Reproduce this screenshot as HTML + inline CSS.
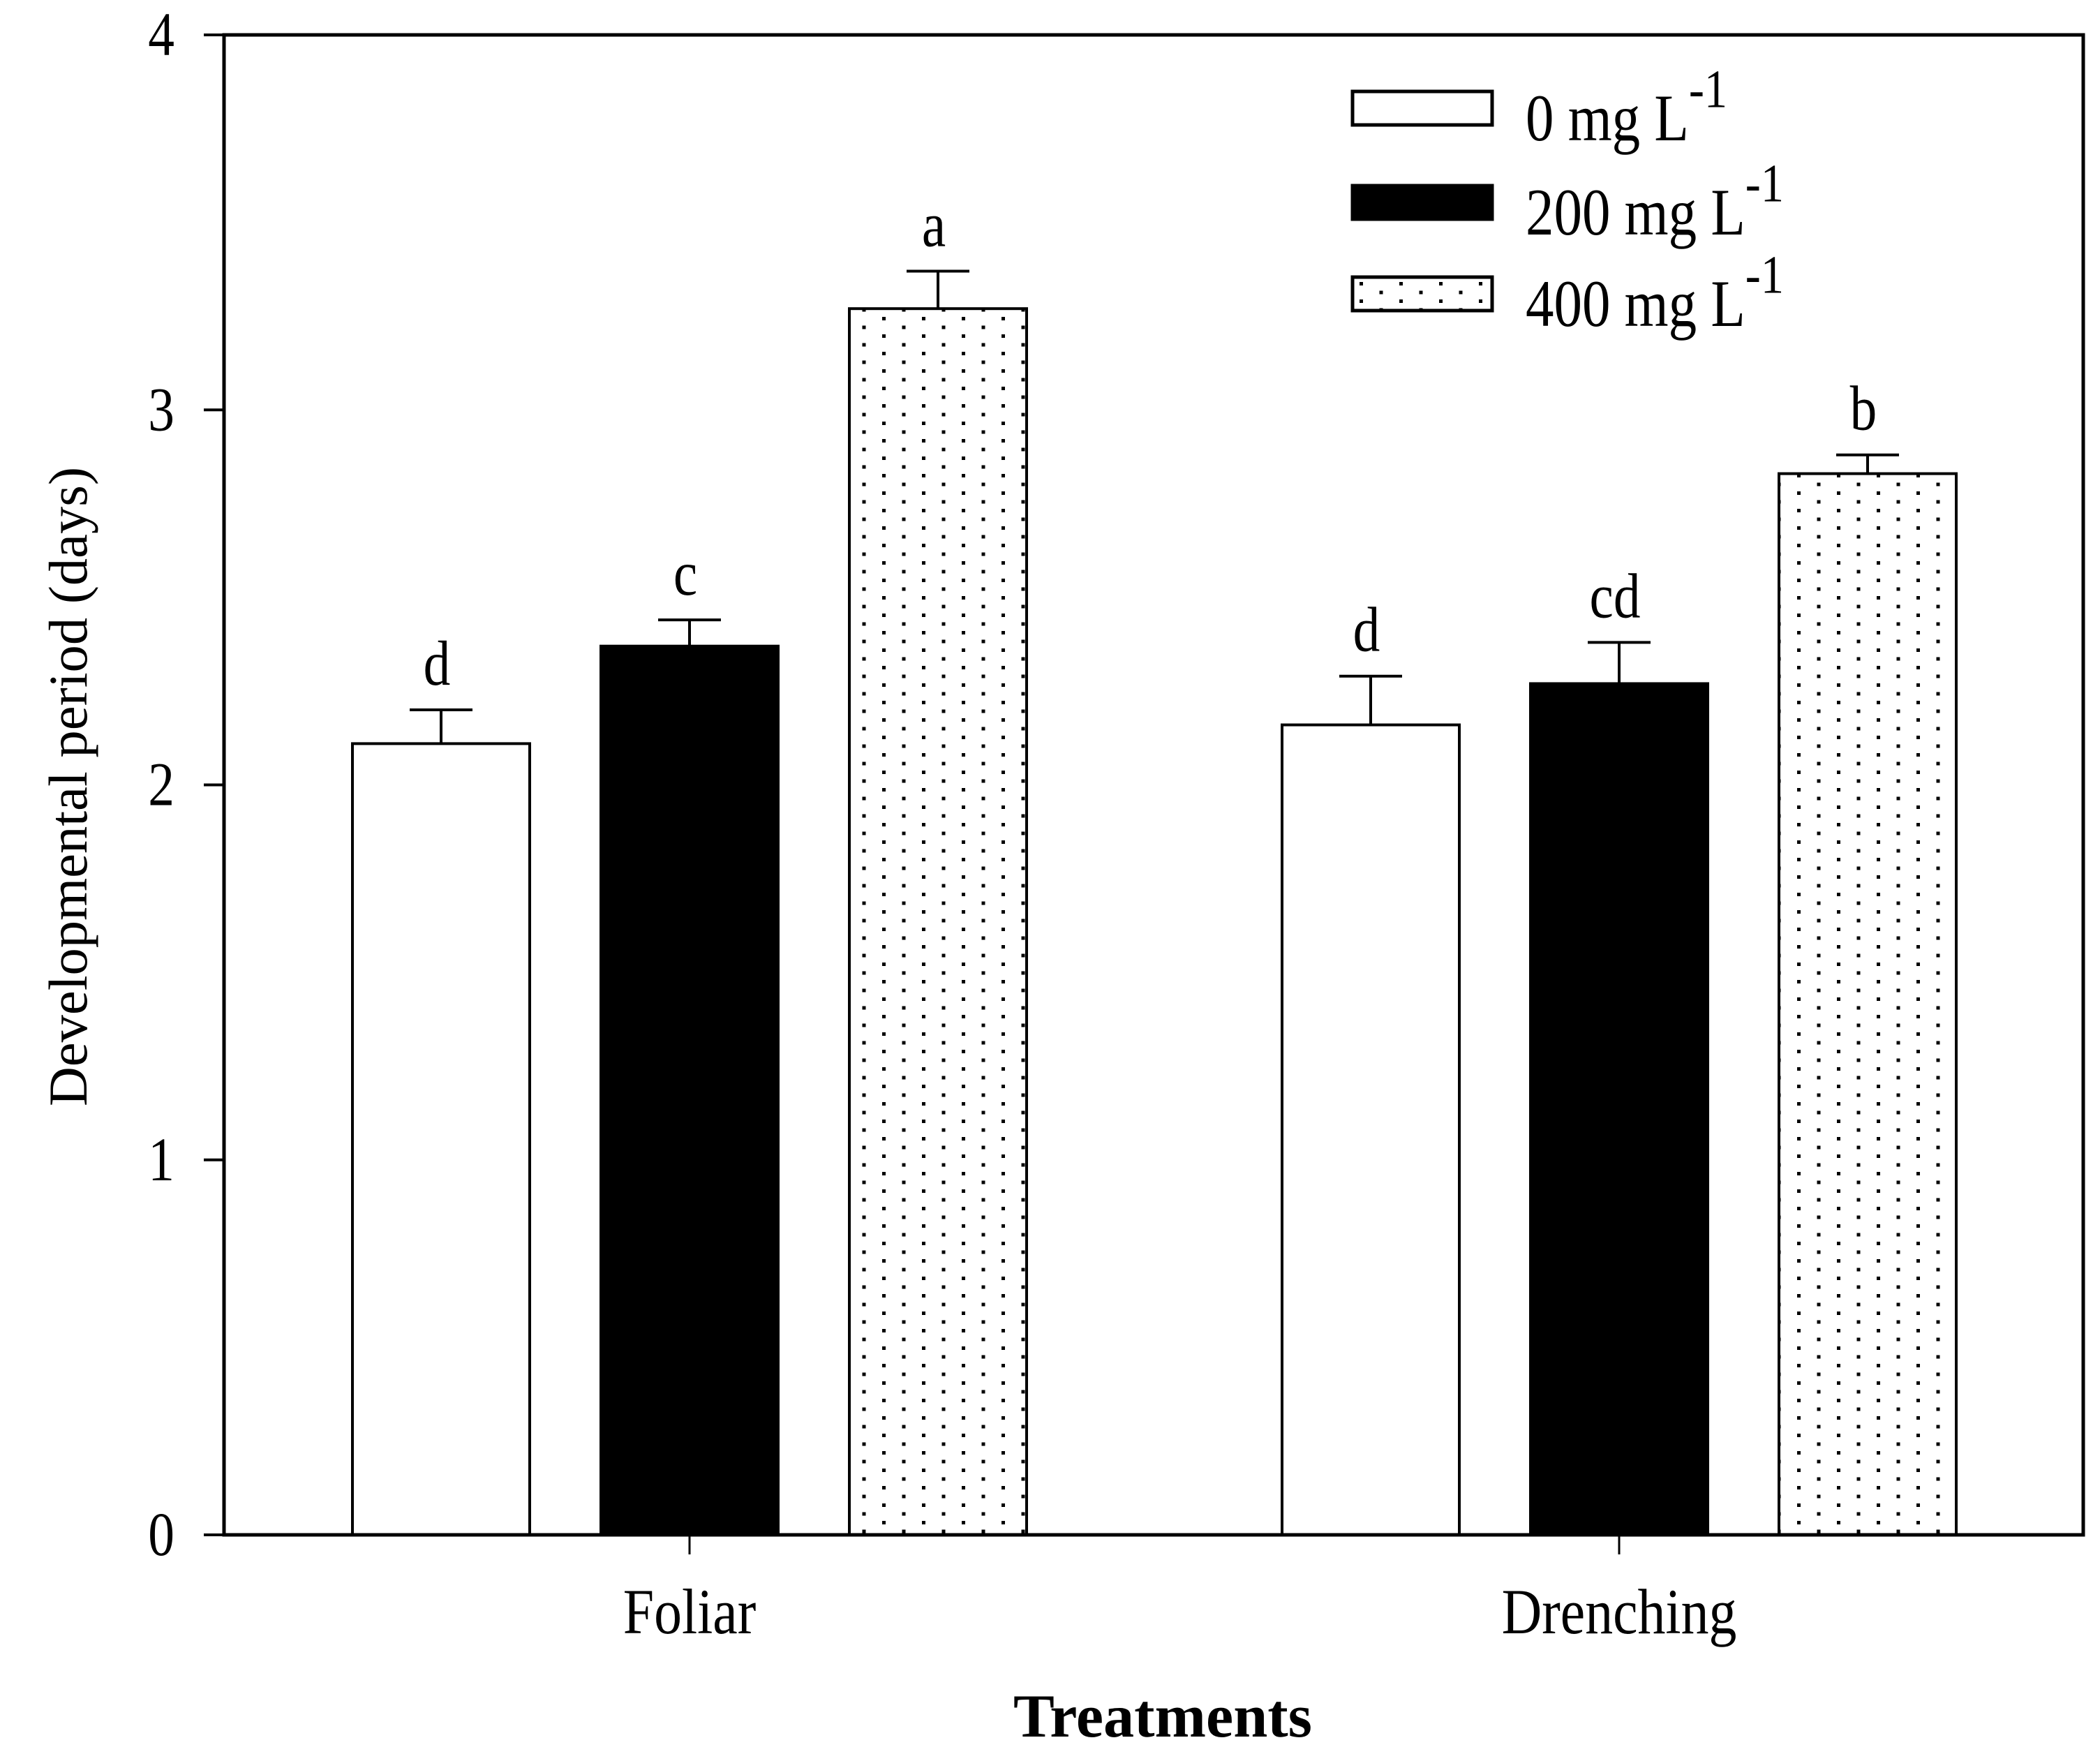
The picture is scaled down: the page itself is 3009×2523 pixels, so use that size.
<!DOCTYPE html>
<html><head><meta charset="utf-8"><style>
html,body{margin:0;padding:0;background:#fff;}
svg{display:block;font-family:"Liberation Serif",serif;}
</style></head><body>
<svg id="chart" width="3009" height="2523" viewBox="0 0 3009 2523" xmlns="http://www.w3.org/2000/svg">
<defs>
<pattern id="dots" patternUnits="userSpaceOnUse" width="57" height="25" x="0" y="0">
<rect x="10" y="4" width="5" height="5" fill="#000"/>
<rect x="38.5" y="16.5" width="5" height="5" fill="#000"/>
</pattern>
</defs>
<g id="plot"></g>
</svg>
<script>
const categories = ["Foliar", "Drenching"];
const seriesNames = ["0 mg L", "200 mg L", "400 mg L"];
const values0 = [2.11, 2.16];
const values200 = [2.37, 2.27];
const values400 = [3.27, 2.83];
const err0 = [0.09, 0.13];
const err200 = [0.07, 0.11];
const err400 = [0.10, 0.05];
const letters0 = ["d", "d"];
const letters200 = ["c", "cd"];
const letters400 = ["a", "b"];
const yTicks = [0, 1, 2, 3, 4];

const NS = "http://www.w3.org/2000/svg";
const L = 321, R = 2985, T = 50, B = 2199;
const yMax = 4;
function yScale(v){ return B - (v / yMax) * (B - T); }
const groupCenters = [988, 2320];
function xCat(i){ return groupCenters[0] + i * (groupCenters[1] - groupCenters[0]); }
const barW = 254, barStep = 356;
const g = document.getElementById("plot");
function mk(tag, attrs, parent){ const e = document.createElementNS(NS, tag); for (const k in attrs) e.setAttribute(k, attrs[k]); (parent||g).appendChild(e); return e; }

const fills = ["#fff", "#000", "url(#dots)"];
const allVals = [values0, values200, values400];
const allErr = [err0, err200, err400];
const allLet = [letters0, letters200, letters400];

categories.forEach((c, ci) => {
  const cx = xCat(ci);
  for (let s = 0; s < 3; s++) {
    const v = allVals[s][ci];
    const bx = cx + (s - 1) * barStep - barW / 2;
    const yt = yScale(v);
    const r = mk("rect", {x: bx, y: yt, width: barW, height: B - yt, fill: fills[s], stroke: "#000", "stroke-width": 4});
    
    
    const ye = yScale(v + allErr[s][ci]);
    const bxc = bx + barW / 2;
    const e1 = mk("path", {d: `M${bxc},${yt} V${ye} M${bxc-45},${ye} H${bxc+45}`, stroke: "#000", "stroke-width": 4, fill: "none"});
    
    
    const t = mk("text", {x: 0, y: 0, "text-anchor": "middle", "font-size": 84, transform: `translate(${bxc - 6},${ye - 36}) scale(0.92,1.08)`});
    t.textContent = allLet[s][ci];
    
    
  }
  const tk = mk("line", {x1: cx, y1: B, x2: cx, y2: B + 28, stroke: "#000", "stroke-width": 3});
  
  
  const lb = mk("text", {x: 0, y: 0, "text-anchor": "middle", "font-size": 84, transform: `translate(${cx},2340) scale(0.95,1.1)`});
  lb.textContent = c;
  
  
});

yTicks.forEach(v => {
  const y = yScale(v);
  const t = mk("line", {x1: 292, y1: y, x2: L, y2: y, stroke: "#000", "stroke-width": 4});
  
  
  const l = mk("text", {x: 0, y: 0, "text-anchor": "end", "font-size": 82, transform: `translate(250,${y + 29}) scale(0.92,1.08)`});
  l.textContent = v;
  
  
});

const frame = mk("rect", {x: L, y: T, width: R - L, height: B - T, fill: "none", stroke: "#000", "stroke-width": 5});



const yt = mk("text", {x: 0, y: 0, "text-anchor": "middle", "font-size": 78, transform: "translate(124,1127) rotate(-90)", textLength: 916, lengthAdjust: "spacingAndGlyphs"});
yt.textContent = "Developmental period (days)";



const xt = mk("text", {x: 1666, y: 2488, "text-anchor": "middle", "font-size": 88, "font-weight": "bold", textLength: 428, lengthAdjust: "spacingAndGlyphs"});
xt.textContent = "Treatments";



const legY = [131, 266, 397];
seriesNames.forEach((n, i) => {
  const r = mk("rect", {x: 1938, y: legY[i], width: 200, height: 48, fill: fills[i], stroke: "#000", "stroke-width": 5});
  
  
  const t = mk("text", {x: 0, y: 0, "font-size": 88, transform: `translate(2186,${legY[i] + 70}) scale(0.92,1.08)`});
  
  
  t.textContent = n;
  const sup = document.createElementNS(NS, "tspan");
  sup.setAttribute("dy", -44);
  sup.setAttribute("font-size", 72);
  sup.textContent = "-1";
  t.appendChild(sup);
});
</script>
</body></html>
